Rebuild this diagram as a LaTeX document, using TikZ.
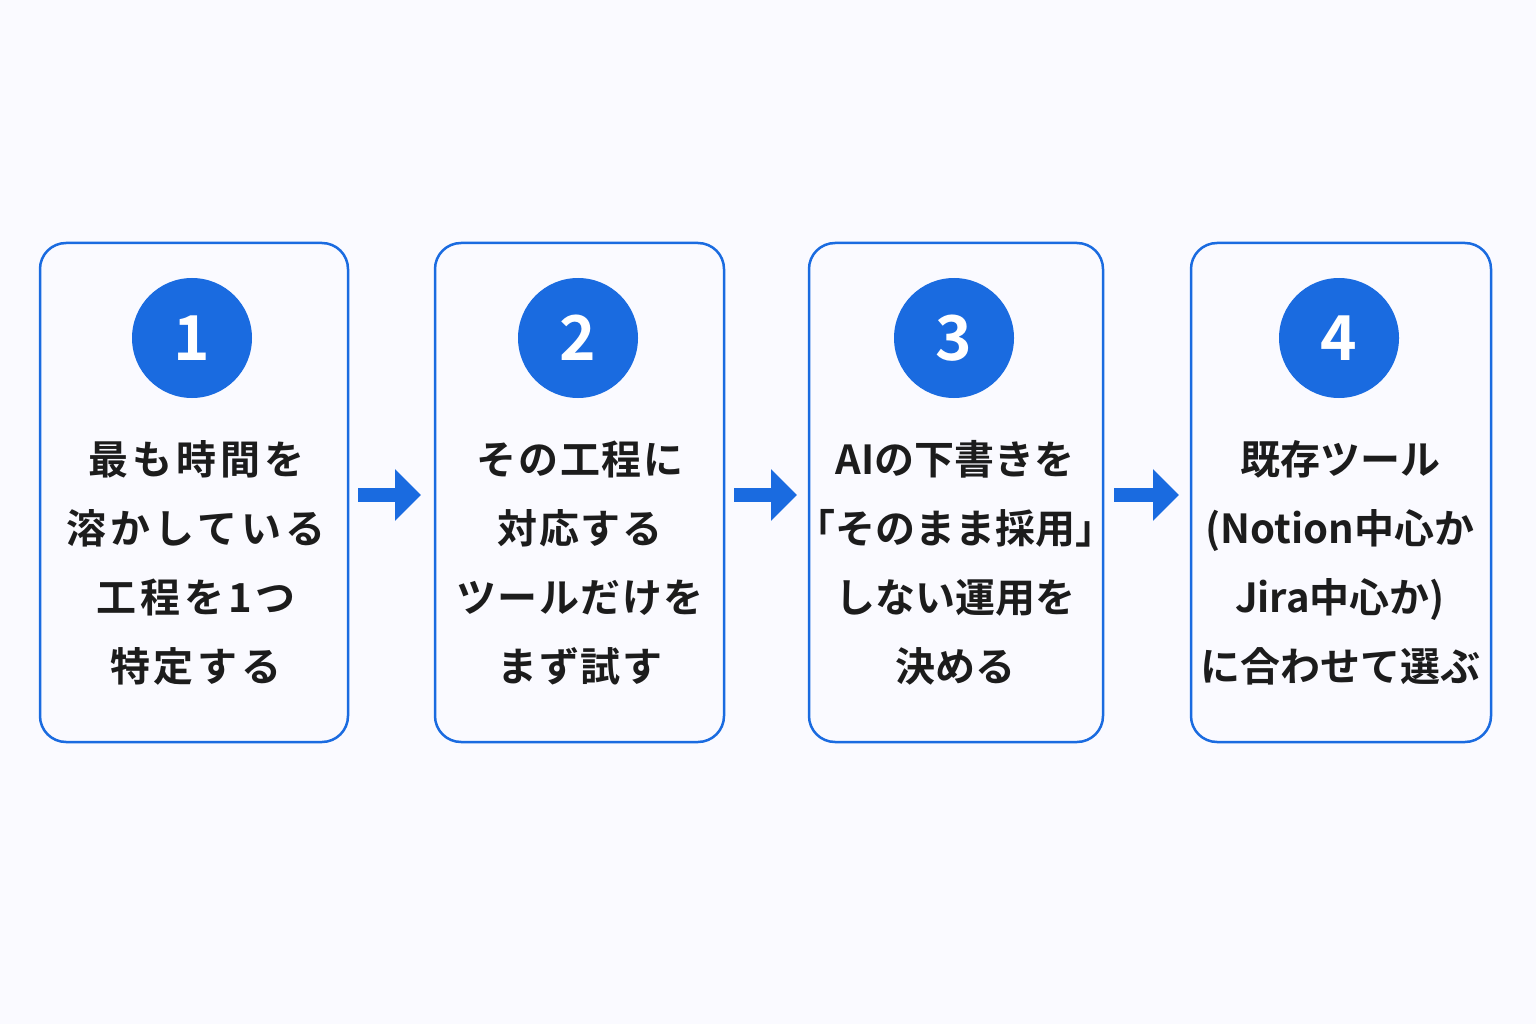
\documentclass[tikz,border=0pt]{standalone}
\usepackage{fontspec}
\newfontfamily\jp{Noto Sans CJK JP Bold}
\newfontfamily\jpw[LetterSpace=10]{Noto Sans CJK JP Bold}
\newfontfamily\jpn[LetterSpace=4]{Noto Sans CJK JP Bold}
\usetikzlibrary{arrows.meta}
\definecolor{bl}{HTML}{1A6BE0}
\definecolor{tx}{HTML}{1C1C1C}
\begin{document}
\begin{tikzpicture}[x=1pt,y=-1pt,
 box/.style={draw=bl,line width=2.5pt,rounded corners=26pt},
 num/.style={circle,fill=bl,minimum size=120pt,inner sep=0,text=white,font=\jp\fontsize{62}{62}\selectfont},
 lbl/.style={align=center,text=tx,font=\jp\fontsize{40}{69}\selectfont,inner sep=0},
 arr/.style={draw=bl,line width=14pt,-{Triangle[length=26pt,width=50pt]}}]
\fill[white!98!blue] (0,0) rectangle (1536,1024);
\useasboundingbox (0,0) rectangle (1536,1024);
\draw[box] (40,243) rectangle (348,742);
\draw[box] (435,243) rectangle (724,742);
\draw[box] (809,243) rectangle (1103,742);
\draw[box] (1191,243) rectangle (1491,742);
\node[num] (c1) at (192,338) {1};
\node[num] (c2) at (578,338) {2};
\node[num] (c3) at (954,338) {3};
\node[num] (c4) at (1339,338) {4};
\node[lbl,font=\jpw\fontsize{40}{69}\selectfont] (t1) at (196,563) {最も時間を\\溶かしている\\工程を1つ\\特定する};
\node[lbl,font=\jpn\fontsize{40}{69}\selectfont] (t2) at (580,563) {その工程に\\対応する\\ツールだけを\\まず試す};
\node[lbl] (t3) at (955,563) {AIの下書きを\\「そのまま採用」\\しない運用を\\決める};
\node[lbl] (t4) at (1340,563) {既存ツール\\(Notion中心か\\Jira中心か)\\に合わせて選ぶ};
\coordinate (a1s) at (358,495); \coordinate (a1e) at (421,495);
\coordinate (a2s) at (734,495); \coordinate (a2e) at (797,495);
\coordinate (a3s) at (1114,495); \coordinate (a3e) at (1179,495);
\draw[arr] (a1s) -- (a1e);
\draw[arr] (a2s) -- (a2e);
\draw[arr] (a3s) -- (a3e);
\end{tikzpicture}
\end{document}
